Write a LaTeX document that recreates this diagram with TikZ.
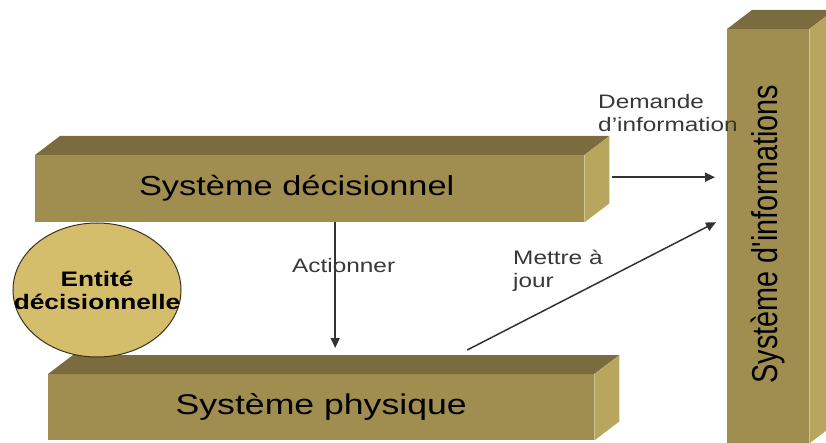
\documentclass[tikz,border=0pt]{standalone}
\usepackage{fontspec}
\setmainfont[FakeStretch=1.25]{Liberation Sans}
\newfontfamily\infofont[FakeStretch=0.8]{Liberation Sans}
\usetikzlibrary{arrows.meta,shapes.geometric}
\definecolor{olivefront}{RGB}{160,141,80}
\definecolor{olivetop}{RGB}{122,108,62}
\definecolor{oliveside}{RGB}{185,166,94}
\definecolor{olivepale}{RGB}{212,190,108}
\definecolor{olivedark}{RGB}{60,50,25}
\tikzset{
  bloc/.style={
    fill=olivefront,
    anchor=north west,
    inner sep=0pt,
    font=\fontsize{28.5}{34}\selectfont
  },
  dessus/.style={fill=olivetop},
  cote/.style={fill=oliveside},
  entite/.style={
    ellipse,
    draw=olivedark,
    line width=1pt,
    fill=olivepale,
    minimum width=168pt,
    minimum height=134pt,
    inner xsep=-26pt,
    inner ysep=0pt,
    align=center,
    font=\bfseries\fontsize{21}{23}\selectfont
  },
  etiquette/.style={
    anchor=west,
    inner sep=0pt,
    align=left,
    text=black!78,
    font=\fontsize{19.5}{22.5}\selectfont
  },
  fleche/.style={
    -{Triangle[length=10pt,width=9pt]},
    line width=1.5pt,
    black!80
  }
}
\begin{document}
\begin{tikzpicture}[x=1pt,y=-1pt]
\useasboundingbox (0,0) rectangle (826,443);
% blocs
\node[bloc,minimum width=549pt,minimum height=67pt] (decision) at (35,155) {\hspace*{-26pt}\fontsize{27.5}{34}\selectfont Système décisionnel};
\fill[dessus] (decision.north west) -- ++(25,-19) -- ([xshift=25pt,yshift=19pt]decision.north east) -- (decision.north east) -- cycle;
\fill[cote] (decision.north east) -- ++(25,-19) -- ([xshift=25pt,yshift=19pt]decision.south east) -- (decision.south east) -- cycle;

\node[bloc,minimum width=546pt,minimum height=66pt] (physique) at (48,374) {Système physique};
\fill[dessus] (physique.north west) -- ++(25,-19) -- ([xshift=25pt,yshift=19pt]physique.north east) -- (physique.north east) -- cycle;
\fill[cote] (physique.north east) -- ++(25,-19) -- ([xshift=25pt,yshift=19pt]physique.south east) -- (physique.south east) -- cycle;

\node[bloc,minimum width=82pt,minimum height=414pt] (info) at (727,29) {};
\fill[dessus] (info.north west) -- ++(25,-19) -- ([xshift=25pt,yshift=19pt]info.north east) -- (info.north east) -- cycle;
\fill[cote] (info.north east) -- ++(25,-19) -- ([xshift=25pt,yshift=19pt]info.south east) -- (info.south east) -- cycle;
\node[rotate=90,inner sep=0pt,font=\infofont\fontsize{36}{42}\selectfont] (infotexte) at ([yshift=2pt]info.center) {Système d'informations};

\node[entite] (entite) at (97,290) {Entité\\décisionnelle};

% fleches
\coordinate (act) at ([xshift=25.5pt]decision.south);
\coordinate (dem) at ([xshift=28pt,yshift=11.5pt]decision.east);
\draw[fleche,shorten >=26pt] (act) -- (act |- physique.north);
\draw[fleche,shorten >=12pt] (dem) -- (dem -| info.west);
\draw[fleche] ([xshift=146pt,yshift=24pt]physique.north) -- ([xshift=-11pt,yshift=14pt]info.west);

% etiquettes
\node[etiquette] (actionner) at (292,266) {Actionner};
\node[etiquette] (demande) at (598,113) {Demande\\d'information};
\node[etiquette] (majour) at (513,271) {Mettre à\\jour};
\end{tikzpicture}
\end{document}
